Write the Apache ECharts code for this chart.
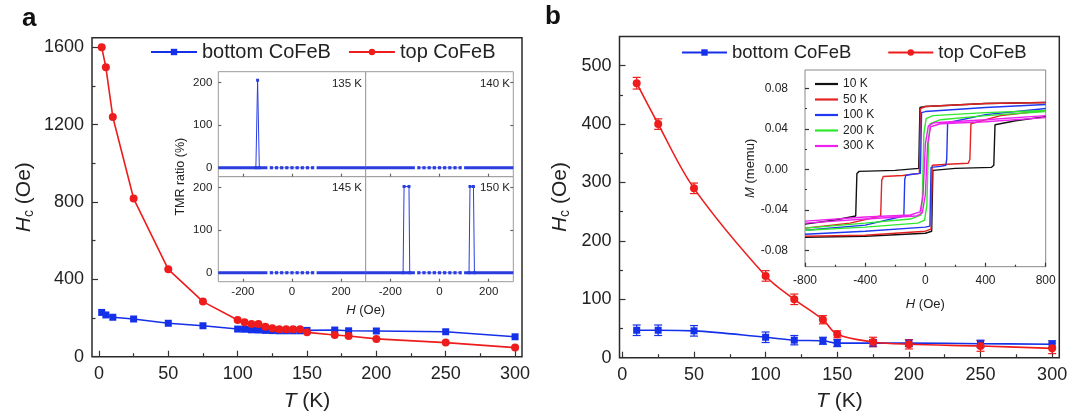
<!DOCTYPE html>
<html>
<head>
  <meta charset="utf-8" />
  <title>Hc vs T, bottom / top CoFeB</title>
  <script src="https://cdn.jsdelivr.net/npm/echarts@6/dist/echarts.min.js"></script>
  <style>
    html, body { margin: 0; padding: 0; background: #fff; }
    #chart { width: 1083px; height: 420px; }
  </style>
</head>
<body>
  <div id="chart"></div>
  <script>
    "use strict"

    const FONT = '"Liberation Sans", Arial, Helvetica, sans-serif'
    const BLUE = "#1430e8"
    const RED = "#ee1c1c"
    const INSET_BLUE = "#2a3ee0"

    // panel a: Hc vs T
    const tempA = [2, 5, 10, 25, 50, 75, 100, 105, 110, 115, 120, 125, 130, 135, 140, 145, 150, 170, 180, 200, 250, 300]
    const hcBottomA = [229, 216, 204, 195, 173, 160, 143, 142, 139, 138, 136, 135, 134, 134, 134, 134, 136, 138, 134, 133, 129, 103]
    const hcTopA = [1600, 1497, 1240, 818, 452, 285, 190, 178, 169, 169, 155, 147, 142, 142, 142, 142, 126, 112, 107, 92, 73, 47]

    const tempTicks = [0, 50, 100, 150, 200, 250, 300]
    const tempMinor = [25, 75, 125, 175, 225, 275]
    const hcTicksA = [0, 400, 800, 1200, 1600]
    const hcMinorA = [200, 600, 1000, 1400]

    // inset a: TMR ratio vs H
    const tmrTemps = ["135 K", "140 K", "145 K", "150 K"]
    const fieldTicksA = [-200, 0, 200]
    const tmrTicks = [0, 100, 200]
    const denseLeftH = [-300, -100]
    const denseRightH = [100, 300]
    const sparseH = [-84, -63, -42, -21, 0, 21, 42, 63, 84]
    const spike135H = [-147, -140, -133]
    const spike135R = [0, 205, 0]
    const spike150LeftH = [-148, -144, -124, -121]
    const spike150RightH = [120, 124, 138, 142]
    const spike150R = [0, 202, 202, 0]

    // panel b: Hc vs T with error bars
    const tempB = [10, 25, 50, 100, 120, 140, 150, 175, 200, 250, 300]
    const hcBottomB = [47, 47, 46, 35, 30, 29, 25, 25, 25, 24, 23]
    const errBottomB = [9, 9, 9, 9, 8, 6, 6, 6, 6, 6, 6]
    const hcTopB = [470, 400, 290, 140, 100, 65, 40, 27, 23, 20, 16]
    const errTopB = [10, 9, 9, 9, 9, 7, 6, 8, 8, 9, 9]
    const hcTicksB = [0, 100, 200, 300, 400, 500]
    const hcMinorB = [50, 150, 250, 350, 450]

    // inset b: M(H) loops
    const loopNames = ["10 K", "50 K", "100 K", "200 K", "300 K"]
    const loopColors = ["#111111", "#e52222", "#2038f0", "#2ee82e", "#ee22ee"]
    const loop10Down = [[800, 0.066], [400, 0.065], [0, 0.062], [-36, 0.061], [-44, 0.001], [-200, -0.001], [-440, -0.002], [-455, -0.004], [-463, -0.046], [-600, -0.050], [-800, -0.054]]
    const loop10Up = [[-800, -0.067], [-400, -0.066], [0, -0.063], [42, -0.061], [50, -0.001], [200, 0.001], [440, 0.002], [455, 0.004], [463, 0.044], [600, 0.048], [800, 0.052]]
    const loop50Down = [[800, 0.066], [400, 0.065], [0, 0.062], [-32, 0.060], [-40, -0.004], [-150, -0.006], [-280, -0.007], [-290, -0.011], [-297, -0.046], [-500, -0.053], [-800, -0.058]]
    const loop50Up = [[-800, -0.066], [-400, -0.065], [0, -0.061], [38, -0.059], [46, 0.004], [150, 0.005], [285, 0.006], [296, 0.010], [303, 0.045], [500, 0.053], [800, 0.058]]
    const loop100Down = [[800, 0.064], [400, 0.061], [0, 0.057], [-25, 0.056], [-33, -0.004], [-100, -0.005], [-130, -0.006], [-137, -0.010], [-143, -0.046], [-400, -0.055], [-800, -0.060]]
    const loop100Up = [[-800, -0.064], [-400, -0.061], [0, -0.057], [30, -0.056], [38, 0.002], [100, 0.003], [136, 0.004], [142, 0.010], [148, 0.046], [400, 0.054], [800, 0.060]]
    const loop200Down = [[800, 0.058], [400, 0.056], [50, 0.053], [5, 0.050], [-10, 0.035], [-20, -0.030], [-30, -0.045], [-100, -0.049], [-400, -0.053], [-800, -0.058]]
    const loop200Up = [[-800, -0.060], [-400, -0.057], [-50, -0.053], [-5, -0.050], [10, -0.035], [22, 0.030], [32, 0.045], [100, 0.049], [400, 0.053], [800, 0.057]]
    const loop300Down = [[800, 0.053], [400, 0.049], [60, 0.046], [20, 0.043], [0, 0.025], [-15, -0.025], [-35, -0.042], [-100, -0.045], [-400, -0.047], [-800, -0.051]]
    const loop300Up = [[-800, -0.053], [-400, -0.049], [-60, -0.046], [-20, -0.043], [0, -0.025], [15, 0.025], [35, 0.042], [100, 0.045], [400, 0.047], [800, 0.051]]
    const loopsDown = [loop10Down, loop50Down, loop100Down, loop200Down, loop300Down]
    const loopsUp = [loop10Up, loop50Up, loop100Up, loop200Up, loop300Up]
    const fieldTicksB = [-800, -400, 0, 400, 800]
    const fieldMinorB = [-600, -200, 200, 600]
    const mTicks = [-0.08, -0.04, 0, 0.04, 0.08]
    const mMinor = [-0.06, -0.02, 0.02, 0.06]

    function pairs(xs, ys) {
      return xs.map((x, i) => [x, ys[i]])
    }

    // value axis, ticks inside, optional labels
    function axis(grid, min, max, pos, ticks, len, labels, labelStyle, extra) {
      const a = {
        type: "value",
        gridIndex: grid,
        min: min,
        max: max,
        position: pos,
        axisLine: { show: false, onZero: false },
        splitLine: { show: false },
        axisTick: { show: true, inside: true, length: len, customValues: ticks, lineStyle: { color: "#333", width: 1.2 } },
        axisLabel: labels
          ? Object.assign({ show: true, customValues: labels, color: "#222", fontFamily: FONT, formatter: (v) => String(v) }, labelStyle)
          : { show: false }
      }
      return Object.assign(a, extra || {})
    }

    const richH = {
      i: { fontStyle: "italic", fontSize: 21, fontFamily: FONT, color: "#222" },
      s: { fontSize: 14, fontFamily: FONT, color: "#222", padding: [10, 0, 0, 0] },
      n: { fontSize: 21, fontFamily: FONT, color: "#222" }
    }
    function nameT(gap) {
      return { name: "{i|T}{n| (K)}", nameLocation: "middle", nameGap: gap, nameTextStyle: { rich: richH } }
    }
    function nameHc(gap) {
      return { name: "{i|H}{s|c}{n| (Oe)}", nameLocation: "middle", nameGap: gap, nameTextStyle: { rich: richH } }
    }
    const richSmall = {
      i: { fontStyle: "italic", fontSize: 13, fontFamily: FONT, color: "#222" },
      n: { fontSize: 13, fontFamily: FONT, color: "#222" }
    }

    // grids
    const insetA = [
      { left: 218.3, top: 71.7, width: 147.4, height: 105 },
      { left: 365.7, top: 71.7, width: 147.6, height: 105 },
      { left: 218.3, top: 176.7, width: 147.4, height: 105 },
      { left: 365.7, top: 176.7, width: 147.6, height: 105 }
    ]
    const grids = [
      { left: 92, top: 37.7, width: 430, height: 319, show: true, borderColor: "#2a2a2a", borderWidth: 1.5 }
    ]
    insetA.forEach((g) => grids.push(Object.assign({ show: true, borderColor: "#9a9a9a", borderWidth: 1, backgroundColor: "#fff" }, g)))
    grids.push({ left: 619.5, top: 36.5, width: 439.8, height: 321.2, show: true, borderColor: "#2a2a2a", borderWidth: 1.5 })
    grids.push({ left: 805, top: 70, width: 240.7, height: 196.7, show: true, borderColor: "#888", borderWidth: 1, backgroundColor: "#fff" })
    grids.forEach((g) => { g.outerBoundsMode = "none"; g.containLabel = false })

    // axes
    const bigLabel = { fontSize: 18, margin: 8 }
    const xAxes = [
      axis(0, -5, 305, "bottom", tempTicks, 6, tempTicks, bigLabel, nameT(34)),
      axis(0, -5, 305, "bottom", tempMinor, 3.5)
    ]
    const yAxes = [
      axis(0, 0, 1650, "left", hcTicksA, 6, hcTicksA, bigLabel, nameHc(56)),
      axis(0, 0, 1650, "left", hcMinorA, 3.5)
    ]
    for (let k = 0; k < 4; k++) {
      const bottomRow = k >= 2
      const leftCol = k % 2 === 0
      const xa = axis(k + 1, -300, 300, "bottom", fieldTicksA, 3, bottomRow ? fieldTicksA : null, { fontSize: 11.5, margin: 4 })
      const ya = axis(k + 1, -21, 225, leftCol ? "left" : "right", tmrTicks, 3, leftCol ? tmrTicks : null, { fontSize: 11.5, margin: 6 })
      xa.axisTick.lineStyle.color = "#666"
      ya.axisTick.lineStyle.color = "#666"
      xAxes.push(xa)
      yAxes.push(ya)
    }
    xAxes.push(axis(5, -2, 305, "bottom", tempTicks, 6, tempTicks, bigLabel, nameT(33)))
    xAxes.push(axis(5, -2, 305, "bottom", tempMinor, 3.5))
    yAxes.push(axis(5, 0, 550, "left", hcTicksB, 6, hcTicksB, bigLabel, nameHc(47)))
    yAxes.push(axis(5, 0, 550, "left", hcMinorB, 3.5))
    xAxes.push(axis(6, -800, 800, "bottom", fieldTicksB, 4, fieldTicksB, { fontSize: 12, margin: 8 },
      { name: "{i|H}{n| (Oe)}", nameLocation: "middle", nameGap: 31, nameTextStyle: { rich: richSmall } }))
    xAxes.push(axis(6, -800, 800, "bottom", fieldMinorB, 2))
    yAxes.push(axis(6, -0.096, 0.098, "left", mTicks, 4, mTicks,
      { fontSize: 12, margin: 17, formatter: (v) => v.toFixed(2) },
      { name: "{i|M}{n| (memu)}", nameLocation: "middle", nameGap: 39, nameTextStyle: { rich: richSmall } }))
    yAxes.push(axis(6, -0.096, 0.098, "left", mMinor, 2))

    // series
    const series = [
      {
        name: "bottom CoFeB", type: "line", xAxisIndex: 0, yAxisIndex: 0,
        data: pairs(tempA, hcBottomA), symbol: "rect", symbolSize: 7,
        itemStyle: { color: BLUE }, lineStyle: { color: BLUE, width: 1.6 }
      },
      {
        name: "top CoFeB", type: "line", xAxisIndex: 0, yAxisIndex: 0,
        data: pairs(tempA, hcTopA), symbol: "circle", symbolSize: 8,
        itemStyle: { color: RED }, lineStyle: { color: RED, width: 1.6 }
      }
    ]

    const spikeSets = [
      [pairs(spike135H, spike135R)],
      [],
      [],
      [pairs(spike150LeftH, spike150R), pairs(spike150RightH, spike150R)]
    ]
    for (let k = 0; k < 4; k++) {
      const ax = k + 2
      series.push({
        name: "dense " + tmrTemps[k], type: "line", xAxisIndex: ax, yAxisIndex: ax, symbol: "none",
        data: [[denseLeftH[0], 0], [denseLeftH[1], 0], [0, "-"], [denseRightH[0], 0], [denseRightH[1], 0]],
        lineStyle: { color: INSET_BLUE, width: 3 }
      })
      series.push({
        name: "sweep " + tmrTemps[k], type: "line", xAxisIndex: ax, yAxisIndex: ax,
        data: sparseH.map((h) => [h, 0]), symbol: "rect", symbolSize: 3.2,
        itemStyle: { color: INSET_BLUE }, lineStyle: { color: INSET_BLUE, width: 0.6 }
      })
      spikeSets[k].forEach((sp, j) => {
        series.push({
          name: "spike " + tmrTemps[k] + j, type: "line", xAxisIndex: ax, yAxisIndex: ax,
          data: sp, symbol: "rect", symbolSize: 3,
          itemStyle: { color: INSET_BLUE }, lineStyle: { color: INSET_BLUE, width: 1 }
        })
      })
    }

    function errorBars(name, xs, ys, errs, color) {
      return {
        type: "custom", name: name, xAxisIndex: 6, yAxisIndex: 6, z: 1,
        data: xs.map((x, i) => [x, ys[i] - errs[i], ys[i] + errs[i]]),
        encode: { x: 0, y: [1, 2] },
        renderItem: function (params, api) {
          const lo = api.coord([api.value(0), api.value(1)])
          const hi = api.coord([api.value(0), api.value(2)])
          const w = 4
          const style = { stroke: color, lineWidth: 1.2 }
          return {
            type: "group",
            children: [
              { type: "line", shape: { x1: lo[0], y1: lo[1], x2: hi[0], y2: hi[1] }, style: style },
              { type: "line", shape: { x1: lo[0] - w, y1: lo[1], x2: lo[0] + w, y2: lo[1] }, style: style },
              { type: "line", shape: { x1: hi[0] - w, y1: hi[1], x2: hi[0] + w, y2: hi[1] }, style: style }
            ]
          }
        }
      }
    }
    series.push(errorBars("err bottom", tempB, hcBottomB, errBottomB, BLUE))
    series.push(errorBars("err top", tempB, hcTopB, errTopB, RED))
    series.push({
      name: "bottom CoFeB", type: "line", xAxisIndex: 6, yAxisIndex: 6, smooth: 0.35,
      data: pairs(tempB, hcBottomB), symbol: "rect", symbolSize: 7, z: 3,
      itemStyle: { color: BLUE }, lineStyle: { color: BLUE, width: 1.6 }
    })
    series.push({
      name: "top CoFeB", type: "line", xAxisIndex: 6, yAxisIndex: 6, smooth: 0.35,
      data: pairs(tempB, hcTopB), symbol: "circle", symbolSize: 8, z: 3,
      itemStyle: { color: RED }, lineStyle: { color: RED, width: 1.6 }
    })

    loopNames.forEach((n, i) => {
      series.push({
        name: n, type: "line", xAxisIndex: 8, yAxisIndex: 8, symbol: "none",
        data: loopsDown[i].concat([[0, "-"]], loopsUp[i]),
        itemStyle: { color: loopColors[i] }, lineStyle: { color: loopColors[i], width: 1.4 }
      })
    })

    const legendText = { fontFamily: FONT, color: "#222" }
    const legends = [
      {
        data: ["bottom CoFeB", "top CoFeB"], left: 150, top: 42, padding: 0, itemGap: 17,
        itemWidth: 46, itemHeight: 8, selectedMode: false,
        textStyle: Object.assign({ fontSize: 20 }, legendText)
      },
      {
        data: ["bottom CoFeB", "top CoFeB"], left: 681, top: 43, padding: 0, itemGap: 36,
        itemWidth: 45, itemHeight: 8, selectedMode: false,
        textStyle: Object.assign({ fontSize: 18.5 }, legendText)
      },
      {
        data: loopNames, orient: "vertical", left: 815, top: 77, padding: 0, itemGap: 1.5,
        itemWidth: 23, itemHeight: 2.2, icon: "rect", selectedMode: false,
        textStyle: Object.assign({ fontSize: 12, lineHeight: 14 }, legendText)
      }
    ]

    const labelFont = { fontFamily: FONT, fill: "#222" }
    const tempLabelPos = [[362, 84], [510, 84], [362, 188], [510, 188]]
    const graphic = [
      { type: "text", left: 22, top: 6, style: Object.assign({ text: "a", fontSize: 26, fontWeight: "bold" }, labelFont, { fill: "#111" }) },
      { type: "text", left: 545, top: 4, style: Object.assign({ text: "b", fontSize: 26, fontWeight: "bold" }, labelFont, { fill: "#111" }) },
      {
        type: "text", x: 181, y: 176.7, rotation: Math.PI / 2,
        style: Object.assign({ text: "TMR ratio (%)", fontSize: 12.5, align: "center", verticalAlign: "middle" }, labelFont)
      },
      {
        type: "text", x: 365.7, y: 310,
        style: Object.assign({
          text: "{i|H}{n| (Oe)}", align: "center", verticalAlign: "middle", fontSize: 13,
          rich: { i: { fontStyle: "italic", fontSize: 13, fontFamily: FONT, fill: "#222" }, n: { fontSize: 13, fontFamily: FONT, fill: "#222" } }
        }, labelFont)
      }
    ]
    tmrTemps.forEach((t, i) => {
      graphic.push({
        type: "text", x: tempLabelPos[i][0], y: tempLabelPos[i][1],
        style: Object.assign({ text: t, fontSize: 11.5, align: "right", verticalAlign: "middle" }, labelFont)
      })
    })

    const chart = echarts.init(document.getElementById("chart"), null, { renderer: "canvas" })
    chart.setOption({
      animation: false,
      backgroundColor: "#fff",
      textStyle: { fontFamily: FONT },
      grid: grids,
      xAxis: xAxes,
      yAxis: yAxes,
      legend: legends,
      series: series,
      graphic: graphic
    })
  </script>
</body>
</html>
